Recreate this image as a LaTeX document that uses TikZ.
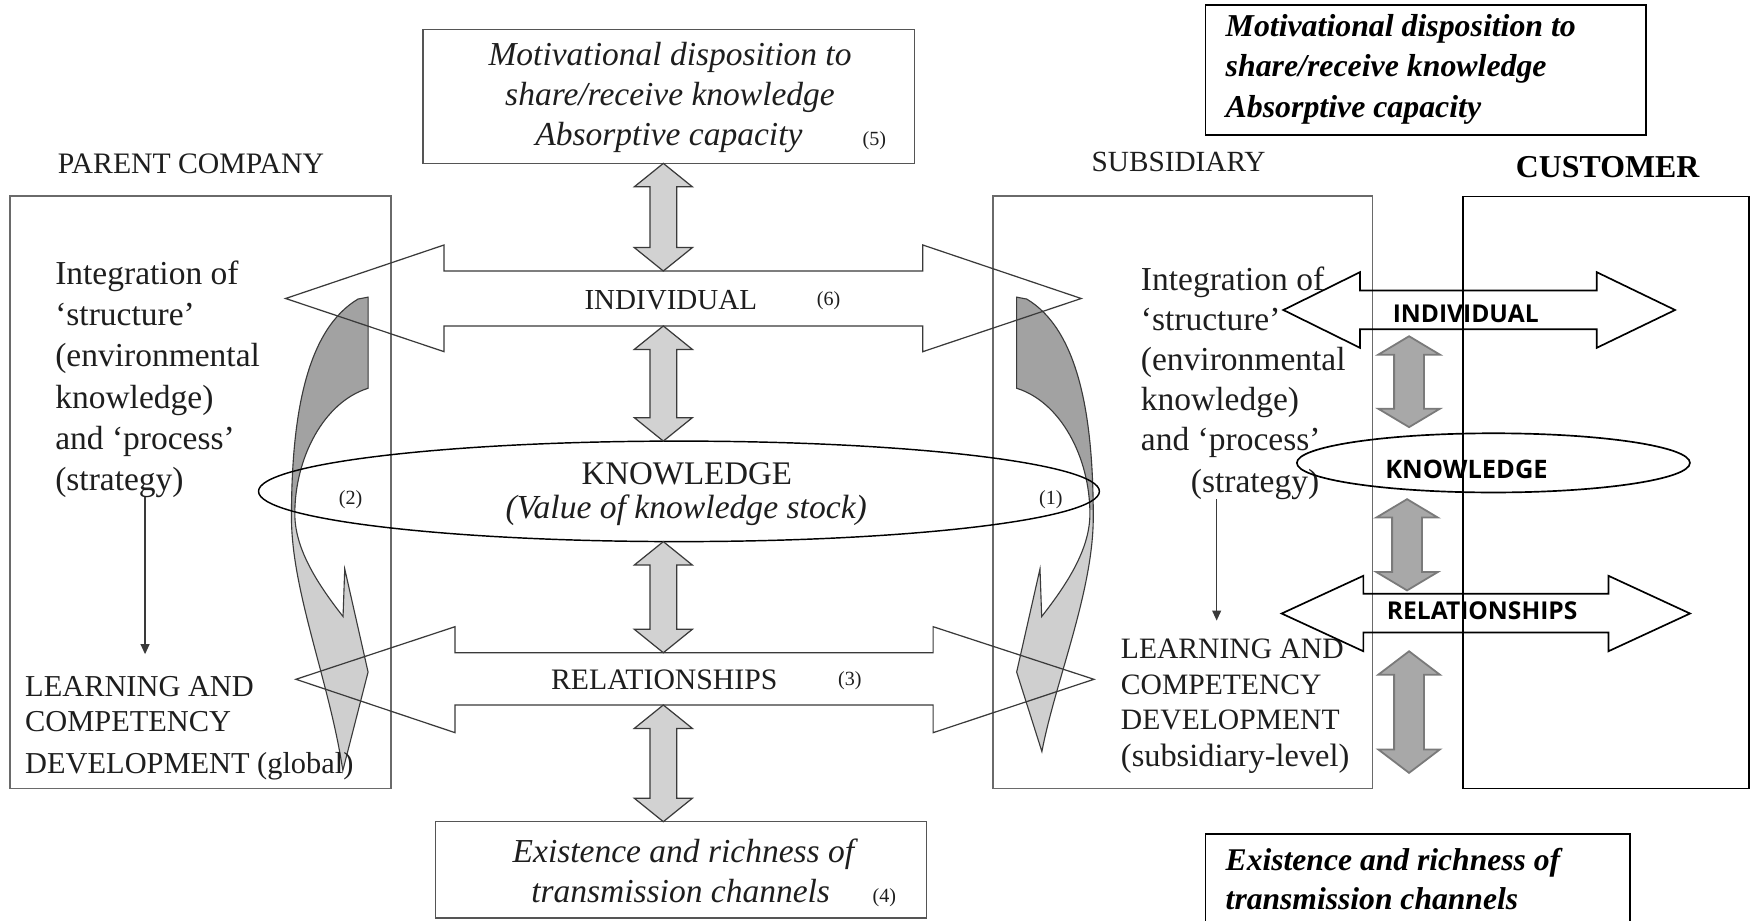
\documentclass[tikz,border=0pt]{standalone}
\usepackage{fontspec}
\setmainfont{Liberation Serif}
\newfontfamily\custsans{Open Sans}
\usetikzlibrary{arrows.meta}

\definecolor{framegray}{HTML}{6A6A6A}
\definecolor{linegray}{HTML}{3A3A3A}
\definecolor{shaftfill}{HTML}{D2D2D2}
\definecolor{flowdark}{HTML}{A2A2A2}
\definecolor{flowlight}{HTML}{CFCFCF}
\definecolor{custfill}{HTML}{A8A8A8}
\definecolor{custedge}{HTML}{7A7A7A}
\definecolor{inktext}{HTML}{1E1E1E}

\newcommand\setfs[1]{\fontsize{#1}{#1}\selectfont}

% vertical double block arrow: style, x, y-top, y-bottom, head half-width, shaft half-width, head length
\newcommand\VArrow[7]{%
  \draw[#1] (#2,#3) -- ({#2+#5},{#3+#7}) -- ({#2+#6},{#3+#7}) -- ({#2+#6},{#4-#7})
    -- ({#2+#5},{#4-#7}) -- (#2,#4) -- ({#2-#5},{#4-#7}) -- ({#2-#6},{#4-#7})
    -- ({#2-#6},{#3+#7}) -- ({#2-#5},{#3+#7}) -- cycle;}

% curved feedback arrow beside the subsidiary box (tip height in \tipy)
\def\flowpath{(910.4,266.1) -- (919.4,267.8)
  .. controls (965,295) and (979,370) .. (979,463)
  .. controls (979,530) and (945,610) .. (933,\tipy)
  -- (910.4,601.8) -- (931.3,509.4) -- (932.8,552.1)
  .. controls (958,520) and (976,490) .. (976,460)
  .. controls (976,410) and (950,360) .. (910.4,347.7) -- cycle}

\tikzset{
  frame/.style={draw=framegray, line width=1.6pt},
  thinframe/.style={draw=framegray!80!black, line width=1.2pt},
  blackframe/.style={draw=black, line width=1.5pt},
  bigarrow/.style={draw=linegray, line width=1.1pt, line join=miter},
  custarrow/.style={draw=black, line width=1.5pt, line join=miter},
  shaftarrow/.style={draw=linegray, fill=shaftfill, line width=1.1pt},
  custshaft/.style={draw=custedge, fill=custfill, line width=1.6pt},
  ring/.style={draw=black, line width=1.3pt},
  flowline/.style={draw=linegray, line width=1pt},
  downarrow/.style={draw=linegray, line width=1.1pt, -{Triangle[length=9pt,width=8pt]}},
  lbl/.style={inner sep=0pt, anchor=base west, text=inktext},
  ctr/.style={inner sep=0pt, anchor=base, text=inktext},
  num/.style={inner sep=0pt, anchor=base, text=inktext, font=\setfs{18}},
}

\begin{document}
\begin{tikzpicture}[x=1pt, y=-1pt]
\useasboundingbox (0,0) rectangle (1568,823.9);
\fill[white] (0,0) rectangle (1568,823.9);

% ---- frames ----
\draw[frame] (9,175.5) rectangle (350,706);
\draw[frame] (889,175.5) rectangle (1229,706);
\draw[blackframe] (1310,176) rectangle (1566,706);
\draw[thinframe] (378.8,26.3) rectangle (819.1,146.3);
\draw[thinframe] (389.9,735.8) rectangle (829.4,822);
\draw[blackframe] (1079.5,4.5) rectangle (1474,120.9);
\draw[blackframe] (1079.5,826) -- (1079.5,746.9) -- (1459.4,746.9) -- (1459.4,826);

% ---- curved feedback arrows (1) and (2) ----
\foreach \side/\tip in {1/673,-1/690}{
  \begin{scope}[xshift={(1-\side)*620pt}, xscale=\side]
    \def\tipy{\tip}
    \fill[flowlight] \flowpath;
    \begin{scope}
      \clip (880,240) rectangle (1000,456);
      \fill[flowdark] \flowpath;
    \end{scope}
    \draw[flowline] \flowpath;
  \end{scope}
}

% ---- column headings ----
\node[ctr, font=\setfs{26.6}] (parent) at (171,155) {PARENT COMPANY};
\node[ctr, font=\setfs{26.2}] (subsid) at (1055.4,153.8) {SUBSIDIARY};
\node[ctr, font=\bfseries\setfs{28.5}, text=black] (cust) at (1439.6,158.8) {CUSTOMER};

% ---- top boxes ----
\node[ctr, font=\itshape\setfs{30}] (mot1) at (600,58.3) {Motivational disposition to};
\node[ctr, font=\itshape\setfs{30}] (mot2) at (600,94.1) {share/receive knowledge};
\node[ctr, font=\itshape\setfs{30}] (mot3) at (599,129.9) {Absorptive capacity};
\node[num] (n5) at (783,129.9) {(5)};

\node[lbl, font=\bfseries\itshape\setfs{28.5}, text=black] (rmot1) at (1097.4,32.4) {Motivational disposition to};
\node[lbl, font=\bfseries\itshape\setfs{28.5}, text=black] (rmot2) at (1097.4,68.2) {share/receive knowledge};
\node[lbl, font=\bfseries\itshape\setfs{28.5}, text=black] (rmot3) at (1097.4,105.5) {Absorptive capacity};

% ---- parent company column ----
\foreach \t [count=\i] in {{Integration of}, {‘structure’}, {(environmental}, {knowledge)}, {and ‘process’}, {(strategy)}}
  \node[lbl, font=\setfs{30}] (pint\i) at (49.3,{254.5+37.0*(\i-1)}) {\t};
\node[lbl, font=\setfs{27.2}] (plearn1) at (22.4,623.3) {LEARNING AND};
\node[lbl, font=\setfs{27.2}] (plearn2) at (22.4,655.3) {COMPETENCY};
\node[lbl, font=\setfs{27.2}] (plearn3) at (22.4,692.5) {DEVELOPMENT (global)};
\coordinate (pdownA) at (129.9,445.5);
\coordinate (pdownB) at (129.9,585.8);
\draw[downarrow] (pdownA) -- (pdownB);

% ---- subsidiary column ----
\foreach \t [count=\i] in {{Integration of}, {‘structure’}, {(environmental}, {knowledge)}, {and ‘process’}}
  \node[lbl, font=\setfs{30}] (sint\i) at (1021.5,{259.8+36.0*(\i-1)}) {\t};
\node[lbl, font=\setfs{30}] (sint6) at (1066.2,441) {(strategy)};
\node[lbl, font=\setfs{26.5}] (slearn1) at (1003.6,589.6) {LEARNING AND};
\node[lbl, font=\setfs{26.5}] (slearn2) at (1003.6,621.5) {COMPETENCY};
\node[lbl, font=\setfs{26.5}] (slearn3) at (1003.6,653.5) {DEVELOPMENT};
\node[lbl, font=\setfs{29}] (slearn4) at (1003.6,686) {(subsidiary-level)};
\coordinate (sdownA) at (1089.5,447.2);
\coordinate (sdownB) at (1089.5,555.7);
\draw[downarrow] (sdownA) -- (sdownB);

% ---- central channel ----
\draw[bigarrow] (255.8,267.3) -- (397.6,219.4) -- (397.6,242.7) -- (826.4,242.7) -- (826.4,219.4)
  -- (968.2,267.3) -- (826.4,314.9) -- (826.4,291.9) -- (397.6,291.9) -- (397.6,314.9) -- cycle;
\node[ctr, font=\setfs{26}] (indiv) at (600.7,277.3) {INDIVIDUAL};
\node[num] (n6) at (742,274) {(6)};

\draw[ring] (608,440) ellipse [x radius=376.5pt, y radius=45pt];
\node[ctr, font=\setfs{29.5}] (know) at (615,433.6) {KNOWLEDGE};
\node[ctr, font=\itshape\setfs{30.1}] (value) at (614.5,464) {(Value of knowledge stock)};
\node[num] (n2) at (313.9,452) {(2)};
\node[num] (n1) at (941,452) {(1)};

\draw[bigarrow] (265,608.3) -- (407.5,561.2) -- (407.5,584.5) -- (835.6,584.5) -- (835.6,561.2)
  -- (979.6,608.3) -- (835.6,656.1) -- (835.6,631.3) -- (407.5,631.3) -- (407.5,656.1) -- cycle;
\node[ctr, font=\setfs{26.6}] (relat) at (594.8,617.6) {RELATIONSHIPS};
\node[num] (n3) at (761,614) {(3)};

\node[ctr, font=\itshape\setfs{30}] (exist1) at (612,772) {Existence and richness of};
\node[ctr, font=\itshape\setfs{30}] (exist2) at (609.5,808) {transmission channels};
\node[num] (n4) at (792,808) {(4)};

\VArrow{shaftarrow}{594}{146.3}{242.7}{26}{12}{21}
\VArrow{shaftarrow}{594}{291.9}{395}{26}{12}{21}
\VArrow{shaftarrow}{594}{485}{584.5}{26}{12}{21}
\VArrow{shaftarrow}{594}{631.3}{735.8}{26}{12}{21}

% ---- customer channel ----
\draw[custarrow] (1149.2,277.6) -- (1217.9,243.7) -- (1217.9,260.1) -- (1429.8,260.1) -- (1429.8,243.7)
  -- (1500,277.6) -- (1429.8,311.5) -- (1429.8,294.8) -- (1217.9,294.8) -- (1217.9,311.5) -- cycle;
\draw[custarrow] (1147.7,549.4) -- (1220.9,515.6) -- (1220.9,531.7) -- (1440.3,531.7) -- (1440.3,515.6)
  -- (1513.4,549.4) -- (1440.3,583.2) -- (1440.3,566.4) -- (1220.9,566.4) -- (1220.9,583.2) -- cycle;
\draw[custarrow] (1337.3,414.5) ellipse [x radius=176pt, y radius=26.5pt];

\node[lbl, font=\custsans\bfseries\setfs{22}, text=black] (cindiv) at (1247,289) {INDIVIDUAL};
\node[lbl, font=\custsans\bfseries\setfs{22.8}, text=black] (cknow) at (1240.3,428.8) {KNOWLEDGE};
\node[lbl, font=\custsans\bfseries\setfs{22}, text=black] (crelat) at (1241.8,554.6) {RELATIONSHIPS};

\VArrow{custshaft}{1261.8}{301.1}{382.5}{27.6}{13.4}{16.5}
\VArrow{custshaft}{1260}{447}{528.7}{27.6}{13.4}{16.5}
\VArrow{custshaft}{1261.8}{583.2}{692.1}{27.6}{13.4}{21}

% ---- lower right box ----
\node[lbl, font=\bfseries\itshape\setfs{28.3}, text=black] (rexist1) at (1097.4,779.6) {Existence and richness of};
\node[lbl, font=\bfseries\itshape\setfs{28.3}, text=black] (rexist2) at (1097.4,814) {transmission channels};
\end{tikzpicture}
\end{document}
